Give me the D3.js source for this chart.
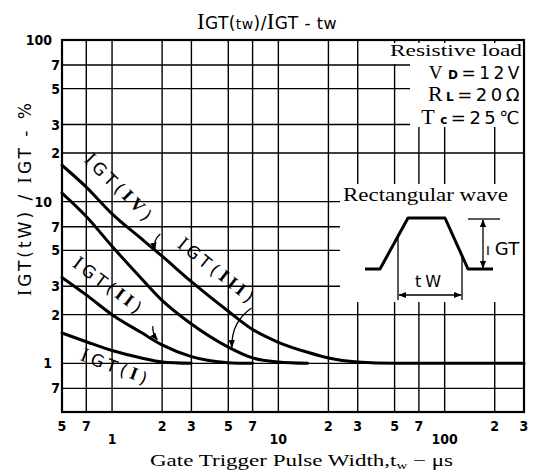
<!DOCTYPE html>
<html><head><meta charset="utf-8">
<script src="https://cdn.jsdelivr.net/npm/d3@7"></script>
<style>body{margin:0;background:#fff}svg{display:block}</style>
</head><body>
<svg id="c" width="533" height="476"></svg>
<script>
// ---------- data ----------
const xGridValues = [0.7, 1, 2, 3, 5, 7, 10, 20, 30, 50, 70, 100, 200];
const yGridValues = [0.7, 1, 2, 3, 5, 7, 10, 20, 30, 50, 70];
const xMinorLabels = [[0.5,"5"],[0.7,"7"],[2,"2"],[3,"3"],[5,"5"],[7,"7"],[20,"2"],[30,"3"],[50,"5"],[70,"7"],[200,"2"],[300,"3"]];
const xMajorLabels = [[1,"1"],[10,"10"],[100,"100"]];
const yMinorLabels = [[70,"7"],[50,"5"],[30,"3"],[20,"2"],[7,"7"],[5,"5"],[3,"3"],[2,"2"],[0.7,"7"]];
const yMajorLabels = [[100,"100"],[10,"10"],[1,"1"]];

const curveIV  = [[0.5,16.8],[0.7,12.3],[1,8.4],[1.5,5.9],[2,4.6],[3,3.2],[5,2.1],[7,1.62],[10,1.35],[15,1.17],[20,1.08],[30,1.02],[50,1.0],[300,1.0]];
const curveIII = [[0.5,11.3],[0.7,8.1],[1,5.3],[1.5,3.35],[2,2.45],[3,1.75],[5,1.26],[7,1.08],[10,1.02],[15,1.0]];
const curveII  = [[0.5,3.4],[0.7,2.65],[1,2.0],[1.5,1.55],[2,1.3],[3,1.1],[5,1.01],[7,1.0]];
const curveI   = [[0.5,1.54],[0.7,1.36],[1,1.2],[1.5,1.08],[2,1.02],[3,1.0]];

const curveLabels = [ // [x, y, angle, roman]
  [1.10, 11.9, 45, "IV"],
  [4.25, 3.65, 39, "III"],
  [0.95, 2.95, 37, "II"],
  [1.05, 0.93, 21, "I"]
];
const pointerArrows = [ // [x0,y0,x1,y1,bulge]
  [1.95, 6.3, 1.81, 5.05, 5],
  [6.9, 2.2, 5.26, 1.26, 12],
  [1.76, 1.70, 1.87, 1.40, 3]
];
const conditionLines = ["Resistive load","VD=12V","RL=20Ω","Tc=25℃"];

// ---------- scales ----------
const svg = d3.select("#c");
const x = d3.scaleLog().domain([0.5, 300]).range([62, 524]);
const y = d3.scaleLog().domain([0.5, 100]).range([412, 40]);

const defs = svg.append("defs");
defs.append("marker").attr("id","ah").attr("viewBox","0 0 10 10").attr("refX",9).attr("refY",5)
  .attr("markerWidth",6).attr("markerHeight",6).attr("orient","auto-start-reverse")
  .append("path").attr("d","M0,1 L10,5 L0,9 z").attr("fill","#000");

// gridlines
const g = svg.append("g").attr("stroke","#000").attr("stroke-width",1.4);
g.selectAll(".vx").data(xGridValues).join("line")
  .attr("x1",d=>x(d)).attr("x2",d=>x(d)).attr("y1",y(0.5)).attr("y2",y(100));
g.selectAll(".hy").data(yGridValues).join("line")
  .attr("y1",d=>y(d)).attr("y2",d=>y(d)).attr("x1",x(0.5)).attr("x2",x(300));

// white boxes for annotations
svg.append("rect").attr("x",388).attr("y",43).attr("width",135).attr("height",21).attr("fill","#fff");
svg.append("rect").attr("x",410).attr("y",63).attr("width",113).attr("height",64).attr("fill","#fff");
svg.append("rect").attr("x",340).attr("y",184).attr("width",183).attr("height",118).attr("fill","#fff");

// frame
svg.append("rect").attr("x",x(0.5)).attr("y",y(100)).attr("width",x(300)-x(0.5)).attr("height",y(0.5)-y(100))
  .attr("fill","none").attr("stroke","#000").attr("stroke-width",2.2);

// curves
const line = d3.line().x(d=>x(d[0])).y(d=>y(d[1])).curve(d3.curveMonotoneX);
svg.selectAll(".crv").data([curveIV, curveIII, curveII, curveI]).join("path")
  .attr("d", line).attr("fill","none").attr("stroke","#000").attr("stroke-width",3).attr("stroke-linecap","round");

// tick labels
const tickFont = "'DejaVu Sans Condensed','DejaVu Sans',sans-serif";
svg.selectAll(".xl").data(xMinorLabels).join("text")
  .attr("x",d=>x(d[0])).attr("y",431).attr("text-anchor","middle")
  .attr("font-family",tickFont).attr("font-weight","bold").attr("font-size",14).text(d=>d[1]);
svg.selectAll(".xm").data(xMajorLabels).join("text")
  .attr("x",d=>x(d[0])).attr("y",444).attr("text-anchor","middle")
  .attr("font-family",tickFont).attr("font-weight","bold").attr("font-size",14).text(d=>d[1]);
svg.selectAll(".yl").data(yMinorLabels).join("text")
  .attr("x",60).attr("y",d=>y(d[0])+5).attr("text-anchor","end")
  .attr("font-family",tickFont).attr("font-weight","bold").attr("font-size",14).text(d=>d[1]);
svg.selectAll(".ym").data(yMajorLabels).join("text")
  .attr("x",52).attr("y",d=>y(d[0])+5).attr("text-anchor","end")
  .attr("font-family",tickFont).attr("font-weight","bold").attr("font-size",14).text(d=>d[1]);

// title
const serif = "'Liberation Serif','DejaVu Serif',serif";
const sans = "'DejaVu Sans','Liberation Sans',sans-serif";
const title = svg.append("text").attr("x",197).attr("y",29).attr("font-family",sans).attr("font-size",17)
  .attr("letter-spacing",0.4);
title.append("tspan").attr("font-family",serif).attr("font-size",23).text("I");
title.append("tspan").text("GT(");
title.append("tspan").attr("font-size",14).text("tw");
title.append("tspan").text(")/");
title.append("tspan").attr("font-family",serif).attr("font-size",23).text("I");
title.append("tspan").text("GT - ");
title.append("tspan").attr("font-size",16).text("tw");

// y axis label
const yl = svg.append("text").attr("transform","translate(31,198) rotate(-90)")
  .attr("text-anchor","middle").attr("font-family",sans).attr("font-size",17).attr("letter-spacing",3);
yl.append("tspan").attr("font-family",serif).attr("font-size",19).text("I");
yl.append("tspan").text("GT(tW) / ");
yl.append("tspan").attr("font-family",serif).attr("font-size",19).text("I");
yl.append("tspan").text("GT - %");

// x axis label
svg.append("text").attr("x",150).attr("y",466).attr("font-family",serif).attr("font-size",17)
  .attr("textLength",303).attr("lengthAdjust","spacingAndGlyphs")
  .html("Gate Trigger Pulse Width,t<tspan font-size='11' dy='3'>w</tspan><tspan dy='-3'> − μs</tspan>");

// conditions
svg.append("text").attr("x",522).attr("y",56).attr("text-anchor","end").attr("font-family",serif)
  .attr("font-size",17).attr("textLength",132).attr("lengthAdjust","spacingAndGlyphs").text(conditionLines[0]);
const c1 = svg.append("text").attr("x",523).attr("y",79).attr("text-anchor","end").attr("font-family",sans).attr("font-size",17).attr("letter-spacing",3.5);
c1.append("tspan").attr("font-family",serif).attr("font-size",19).text("V");
c1.append("tspan").attr("font-size",12).attr("font-weight","bold").attr("dx",2).text("D");
c1.append("tspan").text("=12V");
const c2 = svg.append("text").attr("x",523).attr("y",101).attr("text-anchor","end").attr("font-family",sans).attr("font-size",18).attr("letter-spacing",3.5);
c2.append("tspan").attr("font-family",serif).attr("font-size",22).text("R");
c2.append("tspan").attr("font-size",12).attr("font-weight","bold").text("L");
c2.append("tspan").text("=20Ω");
const c3 = svg.append("text").attr("x",523).attr("y",124).attr("text-anchor","end").attr("font-family",sans).attr("font-size",18).attr("letter-spacing",3.5);
c3.append("tspan").attr("font-family",serif).attr("font-size",22).text("T");
c3.append("tspan").attr("font-size",12).attr("font-weight","bold").attr("dx",2).text("c");
c3.append("tspan").text("=25℃");

// curve labels
curveLabels.forEach(([vx,vy,ang,rn])=>{
  const t = svg.append("text").attr("transform",`translate(${x(vx)},${y(vy)}) rotate(${ang})`)
    .attr("text-anchor","middle").attr("dominant-baseline","middle")
    .attr("font-family",sans).attr("font-size",17).attr("letter-spacing",4);
  t.append("tspan").attr("font-family",serif).attr("font-size",20).text("I");
  t.append("tspan").text("GT(");
  t.append("tspan").attr("font-family",serif).attr("font-weight","bold").attr("font-size",18).text(rn);
  t.append("tspan").text(")");
});

// pointer arrows
pointerArrows.forEach(([x0,y0,x1,y1,b])=>{
  const p0=[x(x0),y(y0)], p1=[x(x1),y(y1)];
  const mx=(p0[0]+p1[0])/2, my=(p0[1]+p1[1])/2;
  const dx=p1[0]-p0[0], dy=p1[1]-p0[1], L=Math.hypot(dx,dy);
  const cx=mx+(-dy/L)*b, cy=my+(dx/L)*b;
  svg.append("path").attr("d",`M${p0[0]},${p0[1]} Q${cx},${cy} ${p1[0]},${p1[1]}`)
    .attr("fill","none").attr("stroke","#000").attr("stroke-width",1.3).attr("marker-end","url(#ah)");
});

// inset: rectangular wave
svg.append("text").attr("x",343).attr("y",201).attr("font-family",serif).attr("font-size",18)
  .attr("textLength",165).attr("lengthAdjust","spacingAndGlyphs").text("Rectangular wave");
const ins = svg.append("g").attr("transform","translate(365,269)");
ins.append("path").attr("d","M0,0 L15,0 L43,-51 L80,-51 L103,0 L128,0")
  .attr("fill","none").attr("stroke","#000").attr("stroke-width",3).attr("stroke-linejoin","round");
ins.append("line").attr("x1",33).attr("x2",33).attr("y1",-33).attr("y2",31).attr("stroke","#000").attr("stroke-width",1.3);
ins.append("line").attr("x1",97).attr("x2",97).attr("y1",-13).attr("y2",31).attr("stroke","#000").attr("stroke-width",1.3);
ins.append("line").attr("x1",34).attr("x2",96).attr("y1",26).attr("y2",26).attr("stroke","#000").attr("stroke-width",1.3)
  .attr("marker-start","url(#ah)").attr("marker-end","url(#ah)");
ins.append("text").attr("x",65).attr("y",18).attr("text-anchor","middle").attr("font-family",sans).attr("font-size",16)
  .attr("letter-spacing",4).text("tW");
ins.append("line").attr("x1",103).attr("x2",135).attr("y1",-50).attr("y2",-50).attr("stroke","#000").attr("stroke-width",1.3);
ins.append("line").attr("x1",118).attr("x2",118).attr("y1",-49).attr("y2",-1).attr("stroke","#000").attr("stroke-width",1.3)
  .attr("marker-start","url(#ah)").attr("marker-end","url(#ah)");
const ig = ins.append("text").attr("x",121).attr("y",-14).attr("font-family",sans).attr("font-size",18);
ig.append("tspan").attr("font-size",13).text("I");
ig.append("tspan").attr("dx",5).text("GT");
</script>
</body></html>
